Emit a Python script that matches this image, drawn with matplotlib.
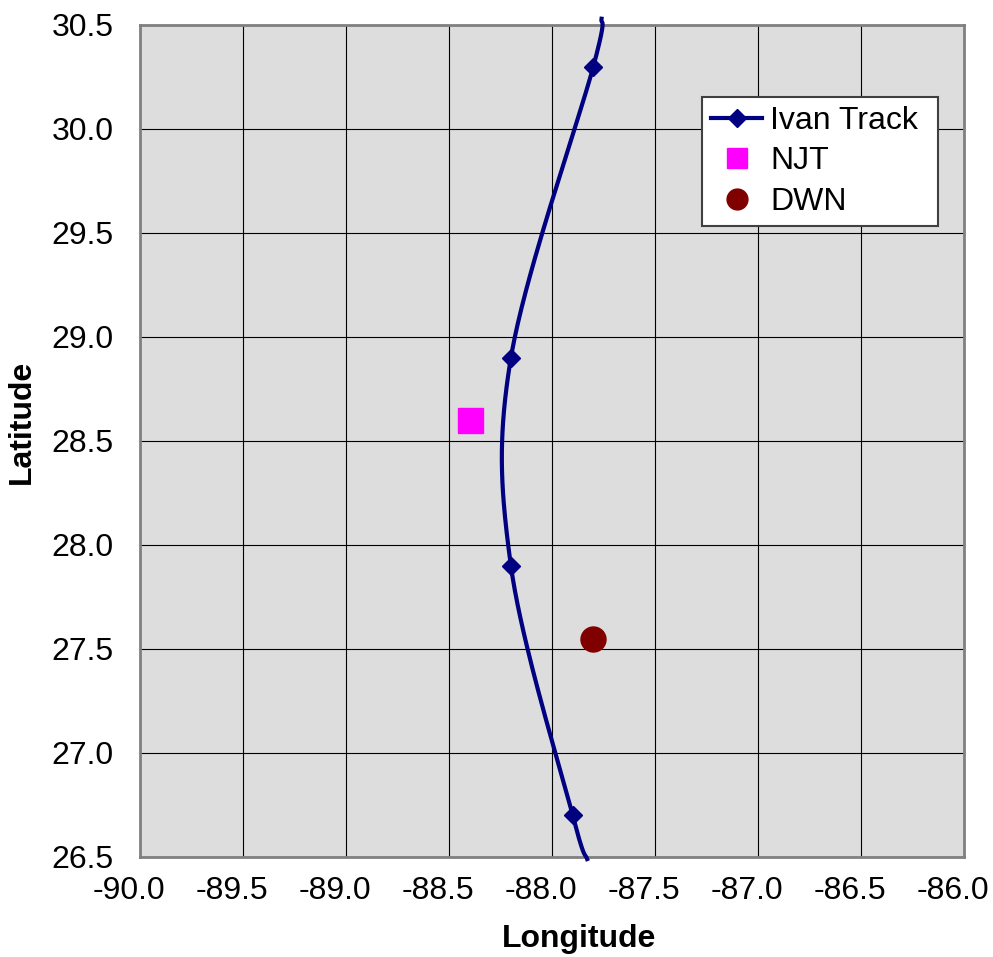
import numpy as np
import matplotlib.pyplot as plt
from matplotlib.lines import Line2D
from matplotlib.transforms import ScaledTranslation

plt.rcParams["font.family"] = ["Liberation Sans", "DejaVu Sans"]

# Ivan track (ends run just past the plot edges)
track_lon = [-87.76, -87.8, -88.2, -88.2, -87.9, -87.83]
track_lat = [30.53, 30.3, 28.9, 27.9, 26.7, 26.49]

njt_lon = [-88.4]
njt_lat = [28.6]

dwn_lon = [-87.8]
dwn_lat = [27.55]

x_ticks = [-90.0, -89.5, -89.0, -88.5, -88.0, -87.5, -87.0, -86.5, -86.0]
y_ticks = [26.5, 27.0, 27.5, 28.0, 28.5, 29.0, 29.5, 30.0, 30.5]


def smooth(xs, ys, n=40):
    # Catmull-Rom spline through the points, like Excel's smoothed line
    pts = np.column_stack([xs, ys])
    p = np.vstack([pts[0], pts, pts[-1]])
    out = []
    for i in range(1, len(p) - 2):
        p0, p1, p2, p3 = p[i - 1], p[i], p[i + 1], p[i + 2]
        t = np.linspace(0, 1, n)[:, None]
        seg = 0.5 * ((2 * p1) + (-p0 + p2) * t
                     + (2 * p0 - 5 * p1 + 4 * p2 - p3) * t ** 2
                     + (-p0 + 3 * p1 - 3 * p2 + p3) * t ** 3)
        out.append(seg)
    out = np.vstack(out)
    return out[:, 0], out[:, 1]


fs = 23

fig = plt.figure(figsize=(9.93, 9.57), dpi=100)
ax = fig.add_axes([0.141, 0.1045, 0.830, 0.8694])
ax.set_facecolor("#DDDDDD")

sx, sy = smooth(track_lon, track_lat)
ax.plot(sx, sy, color="#000080", lw=3, clip_on=False, zorder=3)
ax.plot(track_lon[1:-1], track_lat[1:-1], ls="none", marker="D",
        ms=9.5, color="#000080", zorder=4)

ax.plot(njt_lon, njt_lat, ls="none", marker="s", ms=18,
        color="#FF00FF", zorder=4)
ax.plot(dwn_lon, dwn_lat, ls="none", marker="o", ms=18,
        color="#800000", zorder=4)

ax.set_xlim(-90, -86)
ax.set_ylim(26.5, 30.5)
ax.set_xticks(x_ticks)
ax.set_yticks(y_ticks)
ax.set_xticklabels([f"{v:.1f}" for v in x_ticks])
ax.set_yticklabels([f"{v:.1f}" for v in y_ticks])
ax.tick_params(length=0, labelsize=fs)
ax.tick_params(axis="x", pad=14)
ax.tick_params(axis="y", pad=19)
shift = ScaledTranslation(-0.11, 0, fig.dpi_scale_trans)
for lbl in ax.get_xticklabels():
    lbl.set_transform(lbl.get_transform() + shift)
ax.grid(True, color="black", lw=0.8)
ax.set_axisbelow(True)
for s in ax.spines.values():
    s.set_color("#808080")
    s.set_linewidth(2)

ax.set_xlabel("Longitude", fontsize=fs, fontweight="bold")
ax.xaxis.set_label_coords(0.533, -0.08)
ax.set_ylabel("Latitude", fontsize=fs, fontweight="bold")
ax.yaxis.set_label_coords(-0.125, 0.523)

handles = [
    Line2D([], [], color="#000080", lw=3, marker="D", ms=9.5),
    Line2D([], [], ls="none", marker="s", ms=14, color="#FF00FF"),
    Line2D([], [], ls="none", marker="o", ms=15, color="#800000"),
]
leg = ax.legend(handles, ["Ivan Track", "NJT", "DWN"], loc="upper left",
                bbox_to_anchor=(0.682, 0.5, 0.2864, 0.4135), mode="expand",
                borderaxespad=0, fontsize=fs, frameon=True,
                fancybox=False, framealpha=1, edgecolor="#404040",
                handlelength=1.6, handletextpad=0.25, borderpad=0.28,
                labelspacing=0.33)
leg.get_frame().set_linewidth(1.5)

fig.savefig("out.png", dpi=100)
